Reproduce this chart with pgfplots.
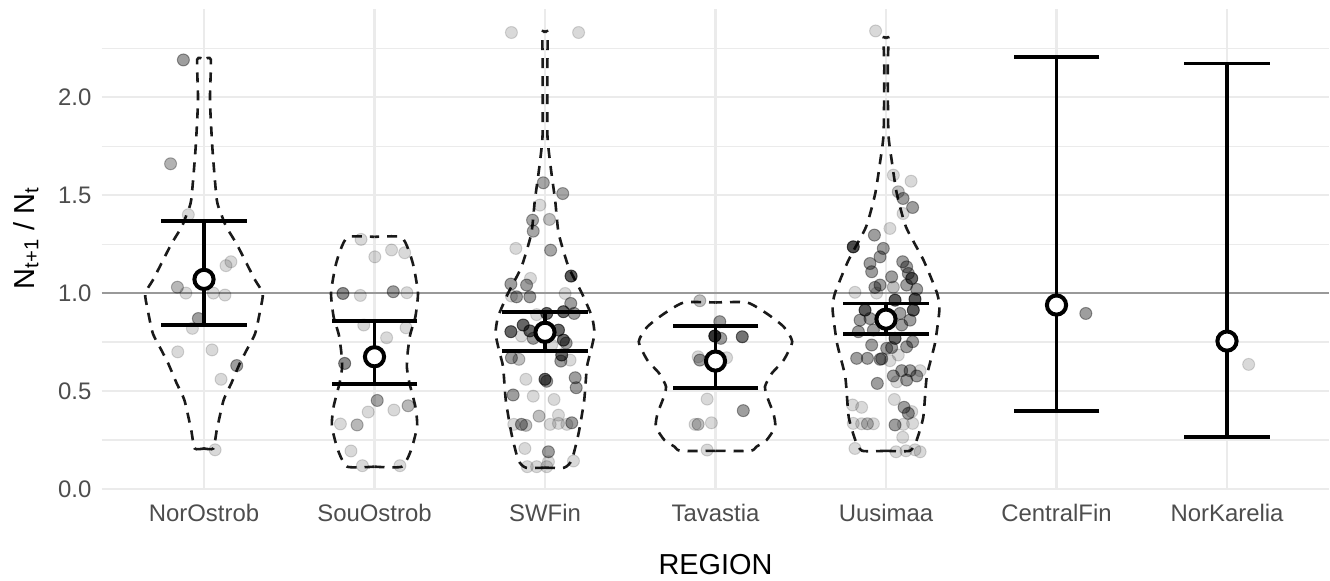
\documentclass[border=0pt]{standalone}
\usepackage{fontspec}
\setmainfont{Liberation Sans}
\usepackage{pgfplots}
\usepackage{pgfplotstable}
\pgfplotsset{compat=1.18}
\definecolor{gridgrey}{HTML}{EBEBEB}
\definecolor{ticktext}{HTML}{4D4D4D}
\definecolor{refline}{HTML}{999999}
\definecolor{vline}{HTML}{1A1A1A}

% mean and error-bar limits per region
\pgfplotstableread{
c m lo hi
1 1.070 0.837 1.367
2 0.675 0.534 0.859
3 0.800 0.704 0.905
4 0.653 0.514 0.832
5 0.867 0.791 0.947
6 0.939 0.398 2.206
7 0.755 0.264 2.172
}\stats

% violin half-widths
\pgfplotstableread{
y w
0.207 0
0.207 0.055
0.301 0.075
0.454 0.115
0.539 0.16
0.641 0.21
0.709 0.25
0.794 0.30
0.913 0.33
0.998 0.345
1.066 0.30
1.151 0.25
1.253 0.19
1.339 0.13
1.406 0.10
1.475 0.075
1.730 0.05
1.984 0.035
2.192 0.04
2.192 0
}\vA
\pgfplotstableread{
y w
0.114 0
0.114 0.16
0.20 0.215
0.32 0.25
0.42 0.24
0.54 0.205
0.62 0.19
0.70 0.195
0.79 0.21
0.88 0.24
1.00 0.255
1.134 0.23
1.22 0.20
1.287 0.155
1.287 0
}\vB
\pgfplotstableread{
y w
0.109 0
0.109 0.113
0.148 0.157
0.284 0.197
0.454 0.23
0.624 0.246
0.709 0.27
0.795 0.29
0.88 0.275
1.0 0.216
1.134 0.138
1.305 0.08
1.47 0.06
1.645 0.033
1.81 0.014
2.155 0.014
2.33 0.015
2.33 0
}\vC
\pgfplotstableread{
y w
0.195 0
0.195 0.206
0.216 0.24
0.25 0.30
0.318 0.35
0.386 0.34
0.454 0.31
0.522 0.29
0.59 0.33
0.658 0.40
0.752 0.45
0.828 0.40
0.896 0.30
0.952 0.185
0.952 0
}\vD
\pgfplotstableread{
y w
0.195 0
0.195 0.14
0.25 0.18
0.369 0.219
0.573 0.239
0.743 0.287
0.913 0.313
0.998 0.30
1.168 0.22
1.338 0.117
1.509 0.063
1.679 0.033
1.815 0.014
2.155 0.01
2.30 0.015
2.30 0
}\vE

% jittered observations: x, y, opacity
\pgfplotstableread{
x y a
0.879 2.19 0.38
0.804 1.66 0.30
0.908 1.40 0.15
1.158 1.16 0.15
1.129 1.14 0.15
0.844 1.03 0.28
0.894 1.00 0.15
1.055 1.00 0.15
1.123 0.99 0.15
0.967 0.87 0.38
0.932 0.82 0.15
0.846 0.70 0.15
1.047 0.71 0.15
1.192 0.63 0.38
1.100 0.56 0.15
1.065 0.20 0.15
1.921 1.274 0.15
2.002 1.185 0.15
2.100 1.220 0.15
2.177 1.206 0.15
1.815 0.998 0.45
1.917 0.988 0.15
2.110 1.007 0.38
2.190 1.002 0.15
1.937 0.837 0.15
2.185 0.823 0.15
2.071 0.772 0.15
1.825 0.641 0.45
2.016 0.452 0.35
1.963 0.393 0.15
2.114 0.403 0.15
2.197 0.425 0.28
1.800 0.332 0.15
1.898 0.327 0.28
1.862 0.194 0.15
1.929 0.119 0.15
2.149 0.119 0.15
2.803 2.33 0.15
3.197 2.33 0.15
2.990 1.563 0.35
3.104 1.508 0.35
2.970 1.449 0.15
2.927 1.372 0.35
3.026 1.376 0.25
2.931 1.316 0.35
2.829 1.228 0.15
3.033 1.219 0.35
3.153 1.087 0.65
2.800 1.046 0.38
2.892 1.041 0.38
2.915 1.075 0.15
3.118 0.998 0.15
2.803 0.985 0.15
2.833 0.981 0.38
2.911 0.981 0.38
3.151 0.947 0.38
3.108 0.905 0.6
3.171 0.896 0.38
3.010 0.896 0.6
2.951 0.890 0.15
2.872 0.837 0.6
2.800 0.803 0.6
2.911 0.807 0.6
3.079 0.811 0.6
2.862 0.781 0.15
2.931 0.769 0.38
3.108 0.760 0.6
3.124 0.745 0.38
3.039 0.735 0.15
3.098 0.684 0.6
2.803 0.670 0.38
2.847 0.662 0.25
3.093 0.653 0.38
3.147 0.658 0.15
2.888 0.560 0.15
3.000 0.560 0.6
3.010 0.550 0.38
3.177 0.568 0.38
3.183 0.517 0.38
2.813 0.480 0.38
2.931 0.474 0.15
3.053 0.457 0.15
2.965 0.372 0.25
3.079 0.377 0.15
2.817 0.330 0.15
2.862 0.330 0.38
2.888 0.325 0.25
3.030 0.330 0.15
3.079 0.335 0.15
3.128 0.330 0.15
3.157 0.338 0.38
2.882 0.207 0.15
3.020 0.190 0.38
3.020 0.139 0.15
3.167 0.143 0.15
2.896 0.114 0.15
2.951 0.114 0.15
3.010 0.114 0.15
3.908 0.961 0.25
4.025 0.854 0.38
3.996 0.781 0.8
4.031 0.769 0.38
4.157 0.777 0.55
3.898 0.675 0.15
3.908 0.658 0.38
4.065 0.670 0.15
3.951 0.459 0.15
4.163 0.400 0.38
3.880 0.330 0.15
3.898 0.330 0.25
3.976 0.338 0.15
3.951 0.199 0.15
4.939 2.338 0.15
5.043 1.602 0.15
5.147 1.571 0.15
5.072 1.517 0.25
5.100 1.483 0.38
5.156 1.437 0.38
5.100 1.406 0.15
5.023 1.330 0.15
4.932 1.296 0.38
4.808 1.236 0.7
4.984 1.228 0.38
4.965 1.185 0.38
4.906 1.151 0.38
4.916 1.109 0.38
5.098 1.160 0.38
5.121 1.134 0.38
5.131 1.100 0.38
5.151 1.075 0.6
5.033 1.083 0.38
4.965 1.041 0.38
4.935 1.029 0.38
5.043 1.030 0.25
5.121 1.041 0.38
5.180 1.019 0.38
4.818 1.004 0.15
4.945 1.000 0.15
5.053 0.964 0.65
5.170 0.969 0.65
5.160 0.913 0.65
4.877 0.913 0.65
4.848 0.862 0.38
4.906 0.870 0.38
5.082 0.896 0.38
5.141 0.862 0.38
4.838 0.803 0.38
4.926 0.811 0.38
5.092 0.837 0.38
5.053 0.769 0.6
4.916 0.735 0.38
5.004 0.718 0.38
5.033 0.722 0.38
5.121 0.726 0.38
5.156 0.752 0.38
5.072 0.684 0.15
4.828 0.667 0.38
4.891 0.667 0.38
4.965 0.662 0.38
5.023 0.655 0.15
4.975 0.665 0.38
5.043 0.577 0.38
5.092 0.604 0.38
5.141 0.604 0.38
5.121 0.556 0.38
5.180 0.577 0.38
5.200 0.604 0.15
5.063 0.547 0.15
4.949 0.539 0.38
5.049 0.457 0.15
5.106 0.417 0.38
5.131 0.386 0.38
5.151 0.395 0.15
4.804 0.429 0.15
4.857 0.417 0.15
4.808 0.335 0.15
4.857 0.333 0.15
4.891 0.333 0.25
4.926 0.333 0.15
5.053 0.327 0.38
5.102 0.330 0.15
5.156 0.335 0.15
5.098 0.264 0.15
4.818 0.207 0.15
5.059 0.190 0.15
5.117 0.195 0.15
5.170 0.200 0.15
5.200 0.190 0.15
6.172 0.896 0.38
7.127 0.636 0.15
}\pts

\begin{document}
\begin{tikzpicture}
\begin{axis}[
  name=ax, at={(0,0)}, anchor=south west,
  scale only axis, width=613.8bp, height=240bp,
  xmin=0.4, xmax=7.6, ymin=0, ymax=2.45,
  xtick={1,2,3,4,5,6,7},
  xticklabels={NorOstrob,SouOstrob,SWFin,Tavastia,Uusimaa,CentralFin,NorKarelia},
  ytick={0,0.5,1,1.5,2},
  yticklabels={0.0,0.5,1.0,1.5,2.0},
  minor ytick={0.25,0.75,1.25,1.75,2.25},
  grid=both,
  major grid style={draw=gridgrey, line width=1.1bp},
  minor grid style={draw=gridgrey, line width=0.6bp},
  axis line style={draw=none},
  major tick length=0pt, minor tick length=0pt,
  tick label style={font=\fontsize{12}{14}\selectfont, text=ticktext},
  xticklabel style={anchor=base, yshift=-16.35bp, inner sep=0pt},
  yticklabel style={anchor=east, xshift=-5bp, inner sep=0pt},
  xlabel={REGION},
  xlabel style={font=\fontsize{14.5}{16}\selectfont, at={(axis description cs:0.5,-0.1583)}, anchor=center, inner sep=0pt},
  ylabel={N\textsubscript{t+1} / N\textsubscript{t}},
  ylabel style={font=\fontsize{14.5}{16}\selectfont, at={(axis description cs:-0.0617,0.523)}, anchor=center, inner sep=0pt},
  violin/.style={draw=vline, line width=1.3bp, dash pattern=on 5bp off 4bp, mark=none, smooth, tension=0.35},
]
\addplot[refline, line width=1bp, mark=none] coordinates {(0.4,1) (7.6,1)};

\addplot[violin] table[x expr=1+\thisrow{w}, y=y]{\vA};
\addplot[violin] table[x expr=1-\thisrow{w}, y=y]{\vA};
\addplot[violin] table[x expr=2+\thisrow{w}, y=y]{\vB};
\addplot[violin] table[x expr=2-\thisrow{w}, y=y]{\vB};
\addplot[violin] table[x expr=3+\thisrow{w}, y=y]{\vC};
\addplot[violin] table[x expr=3-\thisrow{w}, y=y]{\vC};
\addplot[violin] table[x expr=4+\thisrow{w}, y=y]{\vD};
\addplot[violin] table[x expr=4-\thisrow{w}, y=y]{\vD};
\addplot[violin] table[x expr=5+\thisrow{w}, y=y]{\vE};
\addplot[violin] table[x expr=5-\thisrow{w}, y=y]{\vE};

\addplot[only marks, mark=*, mark size=3bp,
  mark options={black, line width=0.5bp},
  scatter, scatter/use mapped color={draw=black, fill=black},
  visualization depends on={\thisrow{a} \as \pa},
  scatter/@pre marker code/.code={\pgfscope\pgfsetfillopacity{\pa}\pgfsetstrokeopacity{\pa}},
  scatter/@post marker code/.code={\endpgfscope},
  point meta=\thisrow{a}] table[x=x, y=y]{\pts};

\addplot[only marks, mark=none,
  error bars/.cd, y dir=both, y explicit, error mark=none,
  error bar style={black, line width=1.9bp}]
  table[x=c, y=m, y error plus expr=\thisrow{hi}-\thisrow{m}, y error minus expr=\thisrow{m}-\thisrow{lo}]{\stats};
\addplot[only marks, mark=-, mark size=21.4bp, mark options={black, line width=1.9bp}] table[x=c, y=lo]{\stats};
\addplot[only marks, mark=-, mark size=21.4bp, mark options={black, line width=1.9bp}] table[x=c, y=hi]{\stats};
\addplot[only marks, mark=*, mark size=4.8bp, mark options={fill=white, draw=black, line width=2bp}] table[x=c, y=m]{\stats};
\end{axis}
\pgfresetboundingbox
\path ([shift={(-50.85bp,-45.5bp)}]ax.south west) rectangle ([shift={(0.35bp,4.5bp)}]ax.north east);
\end{tikzpicture}
\end{document}
